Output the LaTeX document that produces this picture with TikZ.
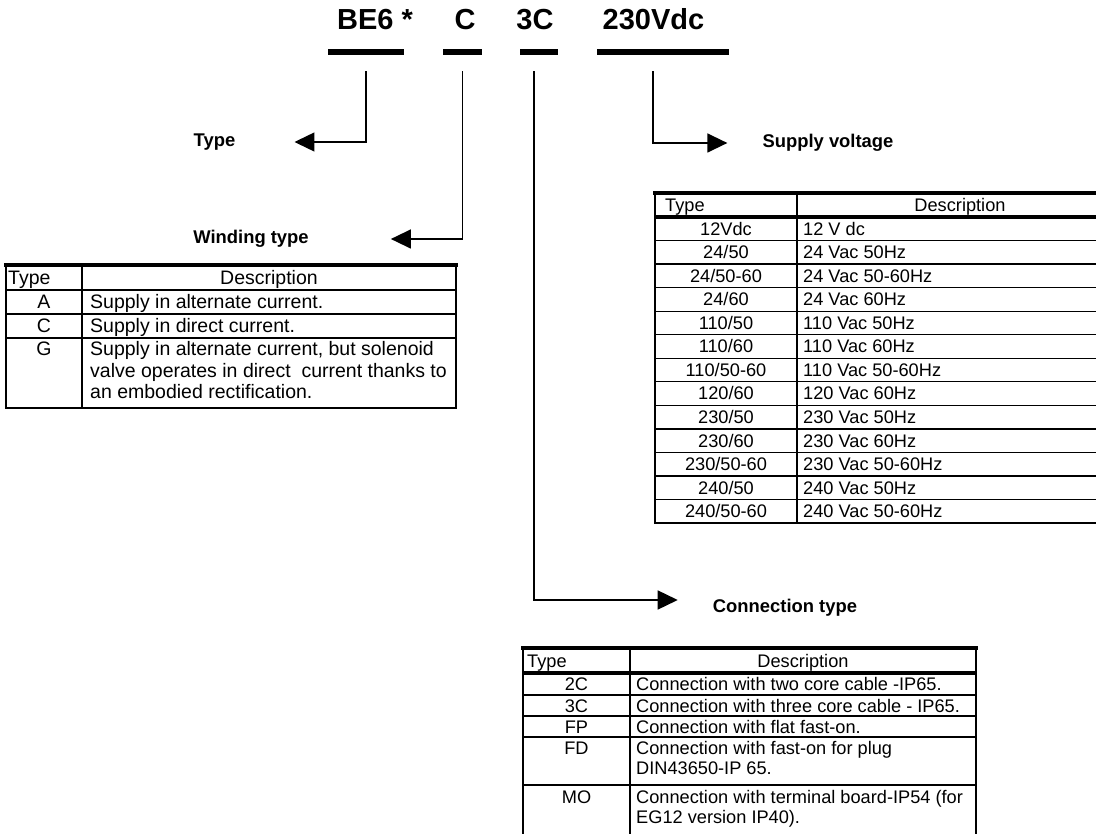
\documentclass[tikz,border=0pt]{standalone}
\usepackage{fontspec}
\setmainfont{Liberation Sans}
\usetikzlibrary{arrows.meta, positioning}

\tikzset{
  codetext/.style={font=\fontsize{29}{34}\selectfont\bfseries, inner sep=0pt, anchor=base},
  codebar/.style={fill=black, inner sep=0pt, minimum height=6pt},
  fieldlabel/.style={font=\fontsize{18.4}{21}\selectfont\bfseries, inner sep=0pt},
  cell/.style={font=\fontsize{18.2}{21}\selectfont, inner sep=0pt, anchor=base},
  cellleft/.style={cell, anchor=base west},
  widecell/.style={cell, font=\fontsize{19.5}{22}\selectfont},
  wideleft/.style={widecell, anchor=base west},
  rowrule/.style={line width=1.3pt},
  edgerule/.style={line width=2pt},
  headrule/.style={line width=3.5pt},
  pointer/.style={line width=1.4pt, -{Triangle[length=20pt,width=19pt]}},
}

\begin{document}
\begin{tikzpicture}[x=1pt, y=-1pt]
  \useasboundingbox (0,0) rectangle (1096,834);
  \clip (0,0) rectangle (1096,834);

  % Order code
  \node[codetext] (codeType) at (375,30) {BE6 *};
  \node[codetext] (codeWinding) at (465,30) {C};
  \node[codetext] (codeConn) at (535,30) {3C};
  \node[codetext] (codeSupply) at (653.5,30) {230Vdc};

  \node[codebar, minimum width=76pt] (barType) at (366,52) {};
  \node[codebar, minimum width=39pt] (barWinding) at (462.5,52) {};
  \node[codebar, minimum width=38pt] (barConn) at (539,52) {};
  \node[codebar, minimum width=132pt] (barSupply) at (663,52) {};

  % Field names
  \node[fieldlabel] (lblType) at (214.5,142) {Type};
  \node[fieldlabel] (lblWinding) at (251,239) {Winding type};
  \node[fieldlabel] (lblSupply) at (828,143) {Supply voltage};
  \node[fieldlabel] (lblConn) at (785,608) {Connection type};

  % Pointers
  \draw[pointer, shorten >=59pt] ([yshift=-16pt]barType.south) |- (lblType.east);
  \draw[pointer, shorten >=82pt] ([yshift=-16pt]barWinding.south) |- (lblWinding.east);
  \draw[pointer, shorten >=35pt] ([xshift=-10pt, yshift=-16pt]barSupply.south) |- (lblSupply.west);
  \draw[pointer, shorten >=35pt] ([xshift=-5pt, yshift=-16pt]barConn.south) |- ([yshift=8pt]lblConn.west);

  % Winding type table
  \draw[rowrule] (6,290) -- (456,290) (6,314) -- (456,314) (6,338) -- (456,338);
  \draw[edgerule] (6,265) -- (6,408) -- (456,408) -- (456,265);
  \draw[rowrule] (82,265) -- (82,408);
  \draw[headrule] (4,265) -- (458,265);
  \node[wideleft] (wHead) at (8,284.5) {Type};
  \node[widecell] (wHeadDesc) at (269,284.5) {Description};
  \node[widecell] (wTypeA) at (44,309) {A};
  \node[wideleft] (wDescA) at (90,309) {Supply in alternate current.};
  \node[widecell] (wTypeC) at (44,333) {C};
  \node[wideleft] (wDescC) at (90,333) {Supply in direct current.};
  \node[widecell] (wTypeG) at (44,356) {G};
  \node[wideleft] (wDescG) at (90,356) {Supply in alternate current, but solenoid};
  \node[wideleft] (wDescGb) at (90,377.5) {valve operates in direct\ \ current thanks to};
  \node[wideleft] (wDescGc) at (90,399) {an embodied rectification.};

  % Supply voltage table
  \draw[rowrule] (655,240.5) -- (1123,240.5) (655,264.1) -- (1123,264.1)
    (655,287.6) -- (1123,287.6) (655,311.2) -- (1123,311.2)
    (655,334.7) -- (1123,334.7) (655,358.2) -- (1123,358.2)
    (655,381.8) -- (1123,381.8) (655,405.3) -- (1123,405.3)
    (655,428.9) -- (1123,428.9) (655,452.4) -- (1123,452.4)
    (655,475.9) -- (1123,475.9) (655,499.5) -- (1123,499.5);
  \draw[edgerule] (655,193) -- (655,523) -- (1123,523);
  \draw[rowrule] (797,193) -- (797,523);
  \draw[headrule] (653,193) -- (1123,193) (655,217) -- (1123,217);
  \node[cellleft] (sHead) at (665,211.5) {Type};
  \node[cell] (sHeadDesc) at (960,211.5) {Description};
  \node[cell] (sType1) at (726,235.2) {12Vdc};      \node[cellleft] (sDesc1) at (803,235.2) {12 V dc};
  \node[cell] (sType2) at (726,258.7) {24/50};      \node[cellleft] (sDesc2) at (803,258.7) {24 Vac 50Hz};
  \node[cell] (sType3) at (726,282.3) {24/50-60};   \node[cellleft] (sDesc3) at (803,282.3) {24 Vac 50-60Hz};
  \node[cell] (sType4) at (726,305.8) {24/60};      \node[cellleft] (sDesc4) at (803,305.8) {24 Vac 60Hz};
  \node[cell] (sType5) at (726,329.4) {110/50};     \node[cellleft] (sDesc5) at (803,329.4) {110 Vac 50Hz};
  \node[cell] (sType6) at (726,352.9) {110/60};     \node[cellleft] (sDesc6) at (803,352.9) {110 Vac 60Hz};
  \node[cell] (sType7) at (726,376.4) {110/50-60};  \node[cellleft] (sDesc7) at (803,376.4) {110 Vac 50-60Hz};
  \node[cell] (sType8) at (726,400.0) {120/60};     \node[cellleft] (sDesc8) at (803,400.0) {120 Vac 60Hz};
  \node[cell] (sType9) at (726,423.5) {230/50};     \node[cellleft] (sDesc9) at (803,423.5) {230 Vac 50Hz};
  \node[cell] (sType10) at (726,447.1) {230/60};    \node[cellleft] (sDesc10) at (803,447.1) {230 Vac 60Hz};
  \node[cell] (sType11) at (726,470.6) {230/50-60}; \node[cellleft] (sDesc11) at (803,470.6) {230 Vac 50-60Hz};
  \node[cell] (sType12) at (726,494.1) {240/50};    \node[cellleft] (sDesc12) at (803,494.1) {240 Vac 50Hz};
  \node[cell] (sType13) at (726,517.7) {240/50-60}; \node[cellleft] (sDesc13) at (803,517.7) {240 Vac 50-60Hz};

  % Connection type table
  \draw[rowrule] (523,695) -- (976,695) (523,716) -- (976,716)
    (523,737) -- (976,737) (523,785) -- (976,785);
  \draw[edgerule] (523,648) -- (523,840) (976,648) -- (976,840);
  \draw[rowrule] (630,648) -- (630,840);
  \draw[headrule] (521,648) -- (978,648) (523,673) -- (976,673);
  \node[cellleft] (cHead) at (527,667) {Type};
  \node[cell] (cHeadDesc) at (803,667) {Description};
  \node[cell] (cType1) at (576.5,690.5) {2C};
  \node[cellleft] (cDesc1) at (636,690.5) {Connection with two core cable -IP65.};
  \node[cell] (cType2) at (576.5,712) {3C};
  \node[cellleft] (cDesc2) at (636,712) {Connection with three core cable - IP65.};
  \node[cell] (cType3) at (576.5,733) {FP};
  \node[cellleft] (cDesc3) at (636,733) {Connection with flat fast-on.};
  \node[cell] (cType4) at (576.5,754.5) {FD};
  \node[cellleft] (cDesc4) at (636,754.5) {Connection with fast-on for plug};
  \node[cellleft] (cDesc4b) at (636,774.5) {DIN43650-IP 65.};
  \node[cell] (cType5) at (576.5,803.5) {MO};
  \node[cellleft] (cDesc5) at (636,803.5) {Connection with terminal board-IP54 (for};
  \node[cellleft] (cDesc5b) at (636,823.5) {EG12 version IP40).};
\end{tikzpicture}
\end{document}
